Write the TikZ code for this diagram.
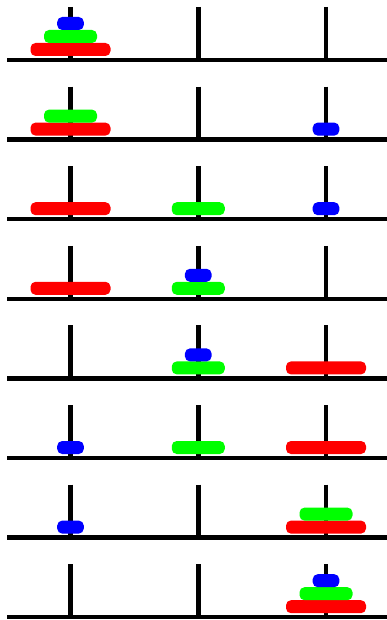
\documentclass[tikz,border=0pt]{standalone}
\usepackage{tikz}

\begin{document}
\begin{tikzpicture}[x=1pt,y=-1pt,
                    rod/.style={line width=4.5pt},
                    disk/.style={rounded corners=5pt}]
                      \useasboundingbox (0,0) rectangle (387,620);
                      % base lines and pegs
                      \foreach \j in {0, ..., 7} {
                              \draw[rod] (7, 60+79.6*\j) -- (390, 60+79.6*\j);
                              \foreach \i in {0, 1, 2} {
                                      \draw[rod] (70.5+127.75*\i, 7+79.6*\j) -- (70.5+127.75*\i, 60+79.6*\j);
                                  }}
                      % disks: row / peg / level / colour / half width
                      \foreach \j/\i/\k/\c/\w in {0/0/0/red/40, 0/0/1/green/26.5, 0/0/2/blue/13.3,
                                                  1/0/0/red/40, 1/0/1/green/26.5, 1/2/0/blue/13.3,
                                                  2/0/0/red/40, 2/1/0/green/26.5, 2/2/0/blue/13.3,
                                                  3/0/0/red/40, 3/1/0/green/26.5, 3/1/1/blue/13.3,
                                                  4/2/0/red/40, 4/1/0/green/26.5, 4/1/1/blue/13.3,
                                                  5/2/0/red/40, 5/1/0/green/26.5, 5/0/0/blue/13.3,
                                                  6/2/0/red/40, 6/2/1/green/26.5, 6/0/0/blue/13.3,
                                                  7/2/0/red/40, 7/2/1/green/26.5, 7/2/2/blue/13.3} {
                              \fill[\c, disk] (70.5+127.75*\i-\w, 56+79.6*\j-13*\k) rectangle (70.5+127.75*\i+\w, 43+79.6*\j-13*\k);
                          }
                  \end{tikzpicture}
\end{document}
